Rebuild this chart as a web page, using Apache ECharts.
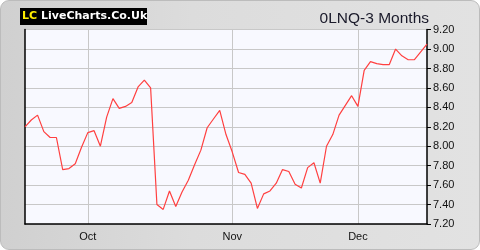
<!DOCTYPE html>
<html>
<head>
<meta charset="utf-8">
<script src="https://cdn.jsdelivr.net/npm/echarts@6/dist/echarts.min.js"></script>
<style>
html,body{margin:0;padding:0;background:#fff;}
#panel{position:absolute;left:0;top:0;width:478px;height:248px;border:1px solid #bcbcbc;border-radius:9px;
background:linear-gradient(to right,#d0d0d0 0%,#dcdcdc 40%,#e2e2e2 100%);overflow:hidden;}
#chart{position:absolute;left:-1px;top:-1px;width:480px;height:250px;}
</style>
</head>
<body>
<div id="panel"><div id="chart"></div></div>
<script>
const categories = Array.from({length:65}, (_, i) => String(i));
const monthLabels = {10:'Oct', 33:'Nov', 53:'Dec'};
const prices = [8.20,8.27,8.32,8.15,8.09,8.09,7.76,7.77,7.82,7.99,
8.14,8.16,8.00,8.30,8.49,8.39,8.41,8.45,8.61,8.68,
8.60,7.40,7.35,7.54,7.38,7.53,7.65,7.81,7.96,8.19,
8.28,8.37,8.12,7.94,7.73,7.71,7.62,7.36,7.51,7.54,
7.62,7.76,7.74,7.61,7.57,7.78,7.83,7.62,8.00,8.12,
8.32,8.42,8.52,8.41,8.78,8.87,8.85,8.84,8.84,9.00,
8.93,8.89,8.89,8.97,9.05];
const yTicks = {min:7.2, max:9.2, step:0.2};
const titleText = '0LNQ-3 Months';

const chart = echarts.init(document.getElementById('chart'), null, {renderer:'canvas'});
chart.setOption({
  animation:false,
  backgroundColor:'transparent',
  title:{text:titleText, right:46, top:6, textStyle:{fontFamily:'Liberation Sans, Arial', fontSize:15.5, fontWeight:'normal', color:'#1a1a2a'}},
  graphic:[
    {type:'rect', left:20, top:8, shape:{width:127, height:17}, style:{fill:'#000'}},
    {type:'text', left:22, top:10.5, style:{text:'LC', fill:'#ffee00', font:'bold 11px "DejaVu Sans", sans-serif'}},
    {type:'text', left:41, top:10.5, style:{text:'LiveCharts.Co.Uk', fill:'#ffffff', font:'bold 11px "DejaVu Sans", sans-serif'}}
  ],
  grid:{left:25, right:53, top:29.6, bottom:26, show:true, backgroundColor:'#f8f9ff', borderWidth:0},
  xAxis:{type:'category', data:categories, boundaryGap:false,
    axisLine:{show:true, lineStyle:{color:'#000', width:1.5}},
    axisTick:{show:false},
    axisLabel:{interval:(i)=>monthLabels[i]!==undefined, formatter:(v,i)=>monthLabels[i]||'', margin:7,
      fontFamily:'Liberation Sans, Arial', fontSize:11, color:'#111'},
    splitLine:{show:true, interval:(i)=>monthLabels[i]!==undefined, lineStyle:{color:'#c8c8c8', width:1}}
  },
  yAxis:[
    {type:'value', position:'right', min:yTicks.min, max:yTicks.max, interval:yTicks.step,
      axisLine:{show:true, lineStyle:{color:'#000', width:1.5}},
      axisTick:{show:true, length:4, lineStyle:{color:'#000'}},
      axisLabel:{formatter:(v)=>v.toFixed(2), margin:6, fontFamily:'Liberation Sans, Arial', fontSize:11, color:'#111'},
      splitLine:{show:true, lineStyle:{color:'#c8c8c8', width:1}}
    },
    {type:'value', position:'left', min:yTicks.min, max:yTicks.max, interval:yTicks.step,
      axisLine:{show:true, lineStyle:{color:'#000', width:1.5}},
      axisTick:{show:false}, axisLabel:{show:false}, splitLine:{show:false}
    }
  ],
  series:[{type:'line', data:prices, showSymbol:false, symbol:'none',
    lineStyle:{color:'#ff4040', width:1.2}}]
});
</script>
</body>
</html>
